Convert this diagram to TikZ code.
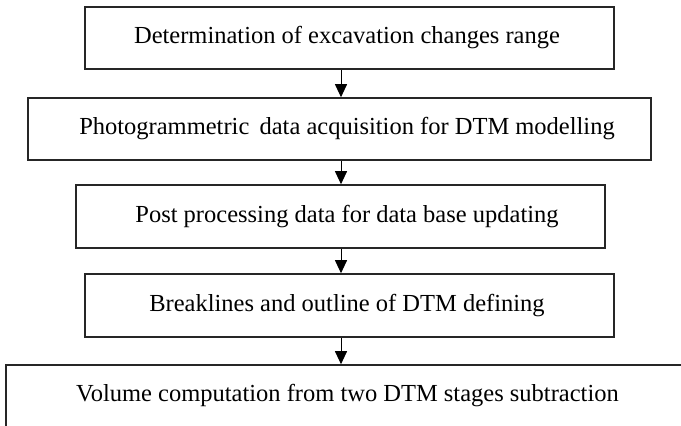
\documentclass[tikz,border=0pt]{standalone}
\usepackage{fontspec}
\setmainfont{Liberation Serif}
\usetikzlibrary{arrows.meta}

\tikzset{
  stagebox/.style={draw=black!85, line width=1.6pt, fill=white, inner sep=0pt,
    minimum height=62pt, font=\fontsize{24.5}{28}\selectfont},
  % moves the text off the box centre by half the given amount
  textshift/.style={execute at begin node={\hspace*{#1}}},
  flowarrow/.style={line width=1pt, -{Triangle[length=13pt,width=12pt]}}
}

\begin{document}
\begin{tikzpicture}[x=1pt,y=1pt]

    % --- Page frame (681 x 426) ---
    \useasboundingbox (0,0) rectangle (681,426);

    % --- Stages ---
    \node[stagebox, minimum width=529pt, textshift=-5pt] (range) at (349.5,388) {Determination of excavation changes range};
    \node[stagebox, minimum width=623pt, textshift=15pt] (photo) at (339.5,297) {Photogrammetric\, data acquisition for DTM modelling};
    \node[stagebox, minimum width=529pt, minimum height=63pt, textshift=13pt] (post) at (340.5,209.5) {Post processing data for data base updating};
    \node[stagebox, minimum width=529pt, minimum height=63pt, textshift=-5pt] (brk) at (349.5,120.5) {Breaklines and outline of DTM defining};
    \node[stagebox, minimum width=683pt] (volume) at (347.5,30) {Volume computation from two DTM stages subtraction};

    % Arrows run down one common vertical
    \coordinate (axis) at (341,0);

    % --- Connectors ---
    \draw[flowarrow] (range.south -| axis) -- (photo.north -| axis);
    \draw[flowarrow] (photo.south -| axis) -- (post.north -| axis);
    \draw[flowarrow] (post.south -| axis)  -- (brk.north -| axis);
    \draw[flowarrow] (brk.south -| axis)   -- (volume.north -| axis);

\end{tikzpicture}
\end{document}
